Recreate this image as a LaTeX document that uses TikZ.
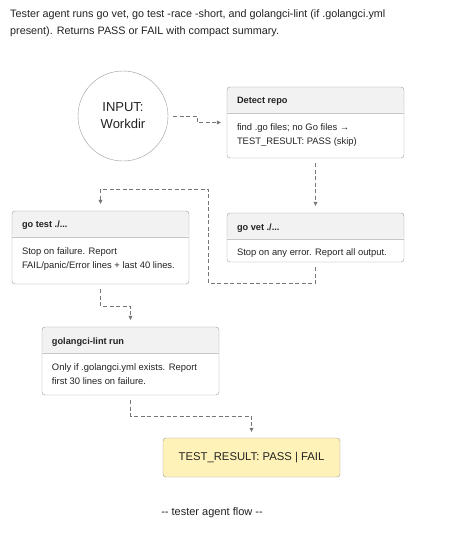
\documentclass[tikz,border=0pt]{standalone}
\usepackage{fontspec}
\setmainfont{Liberation Sans}
\usetikzlibrary{arrows.meta}

\definecolor{ink}{HTML}{222222}
\definecolor{boxgray}{HTML}{9A9A9A}
\definecolor{headgray}{HTML}{F2F2F2}
\definecolor{sepgray}{HTML}{C8C8C8}
\definecolor{flowgray}{HTML}{777777}
\definecolor{resultfill}{HTML}{FFF2B8}

\tikzset{
  card/.style={draw=boxgray, rounded corners=3pt, minimum width=177pt, inner sep=0pt,
    path picture={
      \fill[headgray] (path picture bounding box.north west) rectangle ([yshift=-26pt]path picture bounding box.north east);
      \draw[sepgray] ([yshift=-26pt]path picture bounding box.north west) -- ([yshift=-26pt]path picture bounding box.north east);
    }},
  head/.style={font=\bfseries\fontsize{9.2}{11}\selectfont, anchor=west, inner sep=0pt, text=ink},
  body/.style={font=\fontsize{9.4}{14}\selectfont, align=left, anchor=north west, inner sep=0pt, text=ink},
  flow/.style={draw=flowgray, dash pattern=on 4pt off 2.5pt, -{Triangle[length=4pt,width=4pt]}},
}

\begin{document}
\begin{tikzpicture}[x=1pt,y=-1pt]
\useasboundingbox (0,0) rectangle (457,547);

\node[anchor=north west, align=left, inner sep=0pt, text=ink, font=\fontsize{10.8}{17.8}\selectfont] (title) at (10,9)
  {Tester agent runs go vet, go test -race -short, and golangci-lint (if .golangci.yml\\present). Returns PASS or FAIL with compact summary.};

% input
\node[circle, draw=boxgray, minimum size=90pt, inner sep=0pt, align=center, text=ink, font=\fontsize{13}{17}\selectfont] (input) at (123,116) {INPUT:\\Workdir};

% steps
\node[card, minimum height=71pt] (detect) at (315.5,122.5) {};
\node[head] (detectHead) at ([xshift=10pt,yshift=-14pt]detect.north west) {Detect repo};
\node[body] (detectBody) at ([xshift=10pt,yshift=-37pt]detect.north west) {find .go files; no Go files →\\TEST\_RESULT: PASS (skip)};

\node[card, minimum height=49pt] (govet) at (315.5,237.5) {};
\node[head] (govetHead) at ([xshift=10pt,yshift=-15pt]govet.north west) {go vet ./...};
\node[body] (govetBody) at ([xshift=10pt,yshift=-36pt]govet.north west) {Stop on any error. Report all output.};

\node[card, minimum height=73pt] (gotest) at (100.5,247.5) {};
\node[head] (gotestHead) at ([xshift=10pt,yshift=-14pt]gotest.north west) {go test ./...};
\node[body] (gotestBody) at ([xshift=10pt,yshift=-36.5pt]gotest.north west) {Stop on failure. Report\\FAIL/panic/Error lines + last 40 lines.};

\node[card, minimum height=68pt] (lint) at (130.5,361) {};
\node[head] (lintHead) at ([xshift=10pt,yshift=-15pt]lint.north west) {golangci-lint run};
\node[body] (lintBody) at ([xshift=10pt,yshift=-37pt]lint.north west) {Only if .golangci.yml exists. Report\\first 30 lines on failure.};

\node[draw=boxgray, fill=resultfill, rounded corners=3pt, minimum width=177pt, minimum height=39pt, text=ink, font=\fontsize{11.3}{13}\selectfont] (result) at (251.5,457.5) {TEST\_RESULT: PASS | FAIL};

\node[text=ink, font=\fontsize{11}{13}\selectfont] (caption) at (212,513) {-{}- tester agent flow -{}-};

% flow
\draw[flow] ([xshift=5pt]input.east) -- ++(24,0) |- ([xshift=-6pt]detect.west);
\draw[flow] ([yshift=-5pt]detect.south) -- ([yshift=7pt]govet.north);
\draw[flow] ([yshift=-5pt]govet.south) -- ++(0,16) -| ++(-107,-94) -| ([yshift=7pt]gotest.north);
\draw[flow] ([yshift=-5pt]gotest.south) -- ++(0,17) -| ([yshift=7pt]lint.north);
\draw[flow] ([yshift=-5pt]lint.south) -- ++(0,16) -| ([yshift=6pt]result.north);
\end{tikzpicture}
\end{document}
